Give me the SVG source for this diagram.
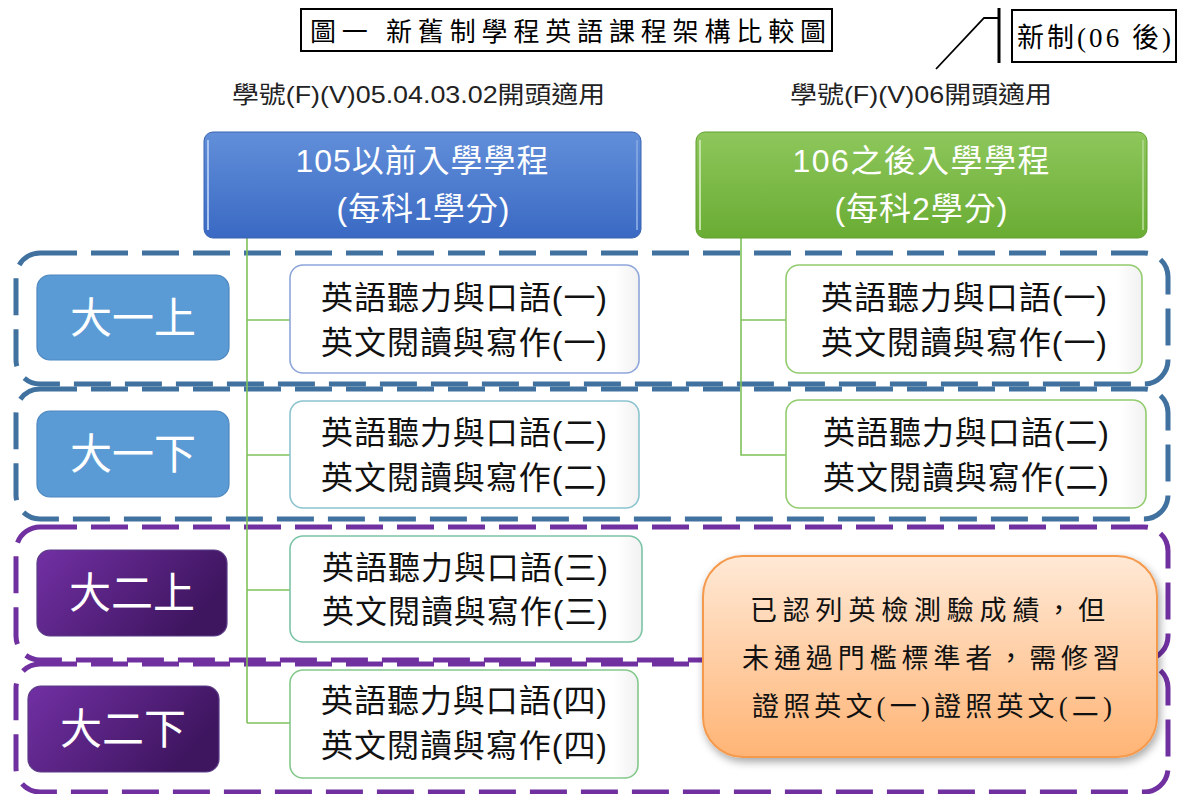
<svg xmlns="http://www.w3.org/2000/svg" width="1183" height="794" viewBox="0 0 1183 794">
<style>
.sans{font-family:"Liberation Sans","Noto Sans CJK TC",sans-serif;}
.serif{font-family:"Liberation Serif","Noto Sans CJK TC",serif;}
.region{fill:none;stroke-width:5;stroke-dasharray:37 14;}
.rb{stroke:#41729F;}
.rp{stroke:#7030A0;}
.conn{fill:none;stroke:#7FC15A;stroke-width:1.6;}
.subj{fill:url(#gWhite);stroke-width:1.6;}
.subjt{font-size:32px;fill:#111;text-anchor:middle;}
.lbl{font-size:42px;fill:#fff;text-anchor:middle;}
.hdr{font-size:32px;fill:#fff;text-anchor:middle;}
</style>
<defs>
<linearGradient id="gBlue" x1="0" y1="0" x2="0" y2="1">
<stop offset="0" stop-color="#628FD9"/><stop offset="1" stop-color="#3A69C4"/>
</linearGradient>
<linearGradient id="gGreen" x1="0" y1="0" x2="0" y2="1">
<stop offset="0" stop-color="#8EC75C"/><stop offset="1" stop-color="#69AC33"/>
</linearGradient>
<linearGradient id="gPurple" x1="0" y1="0" x2="1" y2="0.4">
<stop offset="0" stop-color="#7230A4"/><stop offset="1" stop-color="#3E155F"/>
</linearGradient>
<linearGradient id="gOrange" x1="0" y1="0" x2="0" y2="1">
<stop offset="0" stop-color="#FFE9D6"/><stop offset="1" stop-color="#FFB475"/>
</linearGradient>
<linearGradient id="gWhite" x1="0" y1="0" x2="1" y2="0">
<stop offset="0" stop-color="#FFFFFF"/><stop offset="0.93" stop-color="#FFFFFF"/><stop offset="1" stop-color="#F1F1F1"/>
</linearGradient>
<filter id="shadow" x="-10%" y="-10%" width="125%" height="130%">
<feDropShadow dx="2" dy="4" stdDeviation="4" flood-color="#000" flood-opacity="0.35"/>
</filter>
</defs>

<g id="regions">
<rect class="region rb" x="16" y="253" width="1152" height="131" rx="24"/>
<rect class="region rb" x="16" y="389" width="1152" height="130" rx="24"/>
<rect class="region rp" x="16" y="527" width="1152" height="133" rx="24"/>
<rect class="region rp" x="16" y="664" width="1152" height="128" rx="24"/>
</g>

<g id="title">
<rect x="301" y="9" width="531" height="42" fill="#fff" stroke="#000" stroke-width="2"/>
<text class="serif" x="310" y="41" font-size="26" textLength="516" lengthAdjust="spacing">圖一 新舊制學程英語課程架構比較圖</text>
</g>

<g id="new-tag">
<rect x="1012" y="10" width="164" height="52" fill="#fff" stroke="#000" stroke-width="2"/>
<text class="serif" x="1017" y="47" font-size="27" textLength="154" lengthAdjust="spacing">新制(06 後)</text>
<polyline points="936,69 984,18 998,18" fill="none" stroke="#000" stroke-width="1.8"/>
<line x1="999" y1="8" x2="999" y2="63" stroke="#000" stroke-width="3"/>
</g>

<g id="subtitles">
<text class="sans" x="232" y="103" font-size="24" fill="#222" textLength="373" lengthAdjust="spacingAndGlyphs">學號(F)(V)05.04.03.02開頭適用</text>
<text class="sans" x="790" y="103" font-size="24" fill="#222" textLength="262" lengthAdjust="spacingAndGlyphs">學號(F)(V)06開頭適用</text>
</g>

<g id="connectors">
<polyline class="conn" points="247,238 247,723"/>
<line class="conn" x1="247" y1="320" x2="290" y2="320"/>
<line class="conn" x1="247" y1="455" x2="290" y2="455"/>
<line class="conn" x1="247" y1="590" x2="290" y2="590"/>
<line class="conn" x1="247" y1="723" x2="290" y2="723"/>
<polyline class="conn" points="741,238 741,455 786,455"/>
<line class="conn" x1="741" y1="320" x2="786" y2="320"/>
</g>

<g id="hdr-old">
<rect x="204" y="132" width="437" height="106" rx="9" fill="url(#gBlue)" stroke="#3A64B0" stroke-width="1"/>
<line x1="208" y1="140" x2="208" y2="230" stroke="#A9C4EE" stroke-width="2"/>
<line x1="637" y1="140" x2="637" y2="230" stroke="#7FA3E0" stroke-width="2"/>
<text class="sans hdr" x="422" y="172" textLength="253" lengthAdjust="spacing">105以前入學學程</text>
<text class="sans hdr" x="423" y="220" textLength="173" lengthAdjust="spacing">(每科1學分)</text>
</g>

<g id="hdr-new">
<rect x="696" y="132" width="451" height="106" rx="9" fill="url(#gGreen)" stroke="#62A030" stroke-width="1"/>
<line x1="700" y1="140" x2="700" y2="230" stroke="#C2E3A5" stroke-width="2"/>
<line x1="1143" y1="140" x2="1143" y2="230" stroke="#A8D584" stroke-width="2"/>
<text class="sans hdr" x="921" y="172" textLength="257" lengthAdjust="spacing">106之後入學學程</text>
<text class="sans hdr" x="921" y="220" textLength="173" lengthAdjust="spacing">(每科2學分)</text>
</g>

<g id="lbl-1a">
<rect x="37" y="275" width="192" height="85" rx="13" fill="#5B9BD5" stroke="#4D87BF" stroke-width="1.2"/>
<text class="sans lbl" x="133" y="333">大一上</text>
</g>
<g id="lbl-1b">
<rect x="37" y="411" width="192" height="86" rx="13" fill="#5B9BD5" stroke="#4D87BF" stroke-width="1.2"/>
<text class="sans lbl" x="133" y="469">大一下</text>
</g>
<g id="lbl-2a">
<rect x="37" y="550" width="190" height="86" rx="13" fill="url(#gPurple)" stroke="#5B3C86" stroke-width="1.2"/>
<text class="sans lbl" x="132" y="608">大二上</text>
</g>
<g id="lbl-2b">
<rect x="28" y="686" width="191" height="86" rx="13" fill="url(#gPurple)" stroke="#5B3C86" stroke-width="1.2"/>
<text class="sans lbl" x="123" y="744">大二下</text>
</g>

<g id="old-1">
<rect class="subj" x="290" y="265" width="349" height="108" rx="13" stroke="#8EA6DA"/>
<text class="sans subjt" x="464" y="309" textLength="286" lengthAdjust="spacing">英語聽力與口語(一)</text>
<text class="sans subjt" x="464" y="354" textLength="286" lengthAdjust="spacing">英文閱讀與寫作(一)</text>
</g>
<g id="old-2">
<rect class="subj" x="290" y="401" width="349" height="107" rx="13" stroke="#8CC3CF"/>
<text class="sans subjt" x="464" y="444" textLength="286" lengthAdjust="spacing">英語聽力與口語(二)</text>
<text class="sans subjt" x="464" y="489" textLength="286" lengthAdjust="spacing">英文閱讀與寫作(二)</text>
</g>
<g id="old-3">
<rect class="subj" x="290" y="536" width="352" height="106" rx="13" stroke="#7CC4A6"/>
<text class="sans subjt" x="465" y="579" textLength="286" lengthAdjust="spacing">英語聽力與口語(三)</text>
<text class="sans subjt" x="465" y="623" textLength="286" lengthAdjust="spacing">英文閱讀與寫作(三)</text>
</g>
<g id="old-4">
<rect class="subj" x="290" y="670" width="348" height="108" rx="13" stroke="#84C88A"/>
<text class="sans subjt" x="464" y="712" textLength="286" lengthAdjust="spacing">英語聽力與口語(四)</text>
<text class="sans subjt" x="464" y="757" textLength="286" lengthAdjust="spacing">英文閱讀與寫作(四)</text>
</g>

<g id="new-1">
<rect class="subj" x="786" y="265" width="356" height="108" rx="13" stroke="#92CC6E"/>
<text class="sans subjt" x="964" y="309" textLength="286" lengthAdjust="spacing">英語聽力與口語(一)</text>
<text class="sans subjt" x="964" y="354" textLength="286" lengthAdjust="spacing">英文閱讀與寫作(一)</text>
</g>
<g id="new-2">
<rect class="subj" x="786" y="400" width="360" height="108" rx="13" stroke="#92CC6E"/>
<text class="sans subjt" x="966" y="444" textLength="286" lengthAdjust="spacing">英語聽力與口語(二)</text>
<text class="sans subjt" x="966" y="489" textLength="286" lengthAdjust="spacing">英文閱讀與寫作(二)</text>
</g>

<g id="note">
<rect x="703" y="556" width="454" height="201" rx="40" fill="url(#gOrange)" stroke="#F59A4E" stroke-width="2" filter="url(#shadow)"/>
<text class="serif" x="750" y="620" font-size="27" fill="#111" textLength="355" lengthAdjust="spacing">已認列英檢測驗成績，但</text>
<text class="serif" x="742" y="668" font-size="27" fill="#111" textLength="378" lengthAdjust="spacing">未通過門檻標準者，需修習</text>
<text class="serif" x="752" y="716" font-size="27" fill="#111" textLength="360" lengthAdjust="spacing">證照英文(一)證照英文(二)</text>
</g>
</svg>
